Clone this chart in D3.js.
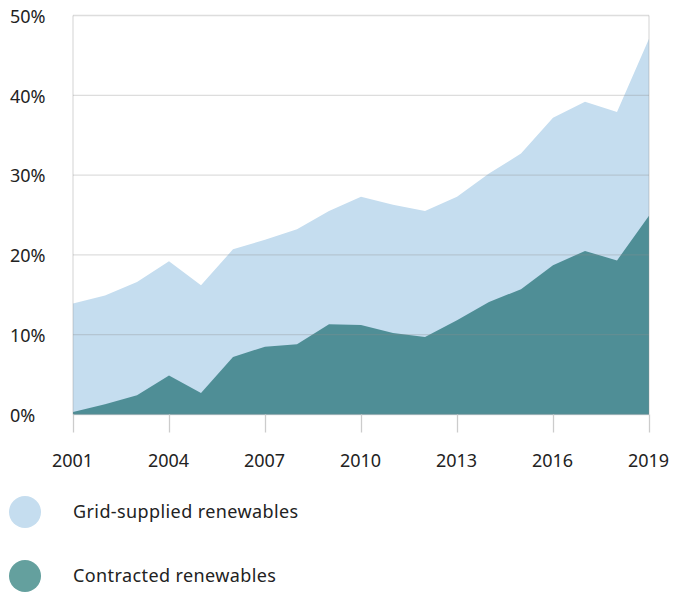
<!DOCTYPE html>
<html><head><meta charset="utf-8">
<script src="https://cdn.jsdelivr.net/npm/d3@7"></script>
<style>
html,body{margin:0;padding:0;background:#fff;}
text{font-family:"Noto Sans",sans-serif;fill:#222;}
</style></head>
<body><svg id="c" width="673" height="592"></svg>
<script>
const years = [2001,2002,2003,2004,2005,2006,2007,2008,2009,2010,2011,2012,2013,2014,2015,2016,2017,2018,2019];
const gridSupplied = [13.9,14.9,16.6,19.2,16.2,20.7,21.9,23.2,25.5,27.3,26.3,25.5,27.3,30.2,32.7,37.2,39.2,37.9,47.1];
const contracted = [0.3,1.3,2.4,4.9,2.7,7.2,8.5,8.8,11.3,11.2,10.2,9.7,11.8,14.1,15.7,18.7,20.5,19.3,24.9];
const yTicks = [0,10,20,30,40,50];
const xTicks = [2001,2004,2007,2010,2013,2016,2019];
const seriesNames = ["Grid-supplied renewables","Contracted renewables"];
const seriesColors = ["#c5ddef","#4f8e96"];
const legendColors = ["#c5ddef","#64a09e"];

const svg = d3.select("#c");
const x = d3.scaleLinear().domain([2001,2019]).range([73,649]);
const y = d3.scaleLinear().domain([0,50]).range([414.5,15.5]);

const area = vals => d3.area().x((d,i)=>x(years[i])).y0(y(0)).y1(d=>y(d))(vals);
svg.append("path").attr("d", area(gridSupplied)).attr("fill", seriesColors[0]);
svg.append("path").attr("d", area(contracted)).attr("fill", seriesColors[1]);

// horizontal gridlines on top
svg.append("g").selectAll("line").data(yTicks).join("line")
  .attr("x1", x(2001)).attr("x2", x(2019))
  .attr("y1", d=>y(d)).attr("y2", d=>y(d))
  .attr("stroke","#8e8e8e").attr("stroke-opacity",0.3).attr("stroke-width",1.3);
// vertical borders
[2001,2019].forEach(v=>{
  svg.append("line").attr("x1",x(v)).attr("x2",x(v)).attr("y1",y(50)).attr("y2",y(0))
    .attr("stroke","#8e8e8e").attr("stroke-opacity",0.3).attr("stroke-width",1.3);
});

// x axis
const xa = svg.append("g").attr("transform",`translate(0,${y(0)})`)
  .call(d3.axisBottom(x).tickValues(xTicks).tickFormat(d3.format("d")).tickSize(18).tickPadding(22));
xa.select(".domain").remove();
xa.selectAll(".tick line").attr("stroke","#ccc").attr("stroke-width",1.3);
xa.selectAll(".tick text").attr("font-size",18).attr("font-family","Noto Sans").attr("fill","#222").attr("dx",-1);

// y labels
svg.append("g").selectAll("text").data(yTicks).join("text")
  .attr("x",10).attr("y",d=>y(d)+1).attr("dy","0.35em")
  .attr("font-size",18).text(d=>d+"%");

// legend
const lg = svg.append("g");
seriesNames.forEach((n,i)=>{
  const cy = 512 + i*64;
  lg.append("circle").attr("cx",25).attr("cy",cy).attr("r",16).attr("fill",legendColors[i]);
  lg.append("text").attr("x",73).attr("y",cy).attr("dy","0.35em").attr("font-size",18)
    .attr("letter-spacing","0.4px").text(n);
});
</script></body></html>
